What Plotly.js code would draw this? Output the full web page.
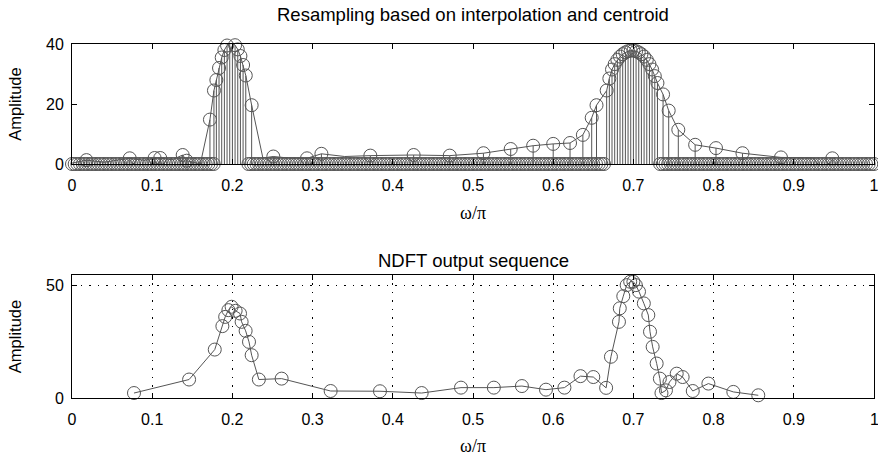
<!DOCTYPE html>
<html>
<head>
<meta charset="utf-8">
<script src="https://cdn.plot.ly/plotly-3.0.1.min.js"></script>
<style>html,body{margin:0;padding:0;background:#fff;}#chart{width:878px;height:456px;}</style>
</head>
<body>
<div id="chart"></div>
<script>
// ---------- data: top panel (resampled spectrum) ----------
// uniform grid step (normalised frequency)
const gridStep = 1 / 300;
// dense grid stems under the peaks (grid index k, amplitude)
const leftPeakK  = [54, 55, 56, 57, 58, 59, 60, 61, 62, 63, 64, 65];
const leftPeakA  = [28, 32, 35.5, 38, 39.5, 40.3, 40.3, 39.6, 38.2, 36, 33, 29.5];
const rightPeakK = [200, 201, 202, 203, 204, 205, 206, 207, 208, 209, 210, 211, 212, 213, 214, 215, 216, 217, 218, 219];
const rightPeakA = [24.5, 28.5, 31.5, 33.3, 34.7, 35.8, 36.6, 37.2, 37.6, 37.8, 37.8, 37.6, 37.2, 36.6, 35.8, 34.7, 33.3, 31.5, 29.3, 27];
// centroid (non-grid) stems
const centW = [0.018, 0.072, 0.103, 0.110, 0.138, 0.143, 0.172, 0.177, 0.224, 0.251, 0.293, 0.311, 0.372, 0.426, 0.471, 0.513, 0.547, 0.575, 0.600, 0.621, 0.637, 0.648, 0.654, 0.737, 0.744, 0.756, 0.777, 0.803, 0.836, 0.884, 0.948];
const centA = [1.3, 1.9, 2.0, 2.0, 3.0, 1.1, 14.8, 24.5, 19.6, 2.5, 1.9, 3.4, 2.8, 3.0, 2.8, 3.6, 5.0, 6.1, 6.7, 7.0, 9.7, 15.4, 19.6, 23.2, 17.8, 11.4, 6.4, 5.3, 3.6, 2.2, 1.9];
// interpolated curve
const curveW = [0, 0.018, 0.040, 0.072, 0.090, 0.103, 0.110, 0.125, 0.138, 0.143, 0.160, 0.172, 0.177, 0.180, 0.1833, 0.1867, 0.190, 0.1933, 0.1967, 0.200, 0.2033, 0.2067, 0.210, 0.2133, 0.2167, 0.224, 0.238, 0.251, 0.270, 0.293, 0.311, 0.340, 0.372, 0.426, 0.471, 0.513, 0.547, 0.575, 0.600, 0.621, 0.637, 0.648, 0.654, 0.6667, 0.670, 0.6733, 0.6767, 0.680, 0.6833, 0.6867, 0.690, 0.6933, 0.6967, 0.700, 0.7033, 0.7067, 0.710, 0.7133, 0.7167, 0.720, 0.7233, 0.7267, 0.730, 0.737, 0.744, 0.756, 0.777, 0.803, 0.836, 0.884, 0.924, 0.930];
const curveA = [0.3, 1.3, 0.6, 1.9, 1.2, 2.0, 2.0, 1.4, 3.0, 1.1, 0.0, 14.8, 24.5, 28, 32, 35.5, 38, 39.5, 40.3, 40.3, 39.6, 38.2, 36, 33, 29.5, 19.6, 2.0, 2.5, 2.0, 1.9, 3.4, 2.5, 2.8, 3.0, 2.8, 3.6, 5.0, 6.1, 6.7, 7.0, 9.7, 15.4, 19.6, 24.5, 28.5, 31.5, 33.3, 34.7, 35.8, 36.6, 37.2, 37.6, 37.8, 37.8, 37.6, 37.2, 36.6, 35.8, 34.7, 33.3, 31.5, 29.3, 27, 23.2, 17.8, 11.4, 6.4, 5.3, 3.6, 2.2, 2.0, 0.0];

// ---------- data: bottom panel (NDFT output) ----------
const ndftW = [0.0773, 0.146, 0.178, 0.1875, 0.191, 0.195, 0.199, 0.204, 0.2095, 0.2115, 0.2165, 0.2207, 0.224, 0.233, 0.2614, 0.3225, 0.384, 0.436, 0.485, 0.526, 0.561, 0.591, 0.614, 0.634, 0.650, 0.666, 0.672, 0.682, 0.683, 0.6874, 0.6916, 0.696, 0.700, 0.703, 0.707, 0.713, 0.7186, 0.7207, 0.724, 0.729, 0.733, 0.735, 0.7406, 0.745, 0.754, 0.7614, 0.774, 0.7935, 0.8246, 0.8557];
const ndftA = [2.2, 8.2, 21.5, 31.9, 36, 39, 40.5, 38.7, 37.5, 33.8, 29.8, 24.9, 19, 8.2, 8.6, 3.1, 3.0, 2.2, 4.6, 4.6, 5.3, 3.7, 4.6, 9.7, 9.3, 4.5, 18.3, 33.8, 39.8, 45.2, 50.1, 51.6, 51.6, 50.1, 47.2, 42, 36.8, 29.4, 22.7, 15.3, 8.6, 2.2, 3.4, 7.1, 10.8, 9.3, 3.1, 6.4, 2.7, 1.2];

// ---------- tick labels ----------
const xTickVals = [0, 0.1, 0.2, 0.3, 0.4, 0.5, 0.6, 0.7, 0.8, 0.9, 1];
const xTickText = ['0', '0.1', '0.2', '0.3', '0.4', '0.5', '0.6', '0.7', '0.8', '0.9', '1'];
const topYTicks = [0, 20, 40];
const botYTicks = [0, 50];

// ---------- build traces ----------
const gray = '#555555';
const mk = {symbol: 'circle-open', size: 13, color: gray, line: {width: 1, color: gray}};
function stem(y) { return {type: 'data', symmetric: false, array: y.map(() => 0), arrayminus: y, width: 0, thickness: 1, color: gray}; }

// zero-valued grid samples (everything on the grid outside the dense peak stems)
const zeroW = [], zeroA = [];
for (let k = 0; k <= 300; k++) {
  if (leftPeakK.includes(k) || rightPeakK.includes(k)) continue;
  zeroW.push(k * gridStep); zeroA.push(0);
}
const denseW = leftPeakK.concat(rightPeakK).map(k => k * gridStep);
const denseA = leftPeakA.concat(rightPeakA);

const traces = [
  {x: zeroW, y: zeroA, xaxis: 'x', yaxis: 'y', mode: 'markers', marker: mk, hoverinfo: 'skip', cliponaxis: false},
  {x: denseW, y: denseA, xaxis: 'x', yaxis: 'y', mode: 'markers', marker: mk, error_y: stem(denseA), cliponaxis: false},
  {x: centW, y: centA, xaxis: 'x', yaxis: 'y', mode: 'markers', marker: mk, error_y: stem(centA), cliponaxis: false},
  {x: curveW, y: curveA, xaxis: 'x', yaxis: 'y', mode: 'lines', line: {color: gray, width: 1}, cliponaxis: false},
  {x: ndftW, y: ndftA, xaxis: 'x2', yaxis: 'y2', mode: 'lines+markers', line: {color: gray, width: 1}, marker: mk, cliponaxis: false}
];

const sans = 'Liberation Sans, Arial, sans-serif';
const tickFont = {family: sans, size: 16, color: '#000'};
function xAxisDef() {
  return {
    range: [0, 1], tickvals: xTickVals, ticktext: xTickText, ticks: 'inside', ticklen: 5, tickcolor: '#000',
    showline: true, linecolor: '#000', linewidth: 1, mirror: 'ticks', zeroline: false, tickfont: tickFont,
    ticklabelstandoff: 7, ticklabeloverflow: 'allow',
    title: {text: 'ω/π', font: {family: 'Liberation Serif, Times New Roman, serif', size: 18, color: '#000'}, standoff: 13},
    automargin: false, fixedrange: true
  };
}
function yAxisDef() {
  return {
    ticks: 'inside', ticklen: 5, tickcolor: '#000', showline: true, linecolor: '#000', linewidth: 1,
    mirror: 'ticks', zeroline: false, tickfont: tickFont, automargin: false, fixedrange: true,
    ticklabelstandoff: 4, ticklabeloverflow: 'allow',
    title: {text: 'Amplitude', font: {family: sans, size: 16.5, color: '#000'}, standoff: 20}
  };
}

const titleAnnotations = [
  {text: 'Resampling based on interpolation and centroid', xref: 'paper', yref: 'paper', x: 0.5, y: (398 - 14) / 354, xanchor: 'center', yanchor: 'middle', showarrow: false, font: {family: sans, size: 18.5, color: '#000'}},
  {text: 'NDFT output sequence', xref: 'paper', yref: 'paper', x: 0.5, y: (398 - 260) / 354, xanchor: 'center', yanchor: 'middle', showarrow: false, font: {family: sans, size: 18.5, color: '#000'}}
];

const layout = {
  width: 878, height: 456,
  margin: {l: 72, r: 4, t: 44, b: 58},
  paper_bgcolor: '#fff', plot_bgcolor: '#fff',
  showlegend: false,
  xaxis: Object.assign(xAxisDef(), {anchor: 'y', showgrid: false}),
  yaxis: Object.assign(yAxisDef(), {anchor: 'x', domain: [0.661, 1], range: [0, 40], tickvals: topYTicks, showgrid: false}),
  xaxis2: Object.assign(xAxisDef(), {anchor: 'y2', showgrid: true, gridcolor: '#000', gridwidth: 1, griddash: '1.5px,7px'}),
  yaxis2: Object.assign(yAxisDef(), {anchor: 'x2', domain: [0, 0.3475], range: [0, 54.6], tickvals: botYTicks, showgrid: true, gridcolor: '#000', gridwidth: 1, griddash: '1.5px,7px'}),
  annotations: titleAnnotations
};

Plotly.newPlot('chart', traces, layout, {staticPlot: true, displayModeBar: false}).then(function (gd) {
  // The lower axis drops its right-edge label; draw it (at the plot's right edge, paper x = 1)
  // at the same height as its neighbours.
  let cy = 417;
  const nb = gd.querySelector('.x2tick text');
  if (nb) {
    const r = nb.getBoundingClientRect(), g = gd.getBoundingClientRect();
    if (r.height > 0) cy = r.top + r.height / 2 - g.top;
  }
  const lastLabel = {text: xTickText[xTickText.length - 1], xref: 'paper', yref: 'paper', x: 1,
    y: (398 - cy) / 354, xanchor: 'center', yanchor: 'middle', showarrow: false, font: tickFont};
  return Plotly.relayout(gd, {annotations: titleAnnotations.concat([lastLabel])});
}).then(function () {
  // avoid a doubled glyph if Plotly redrew its own copy of that label
  const gd = document.getElementById('chart');
  gd.querySelectorAll('.x2tick text').forEach(function (t) {
    if (t.textContent === xTickText[xTickText.length - 1]) t.setAttribute('display', 'none');
  });
});
</script>
</body>
</html>
